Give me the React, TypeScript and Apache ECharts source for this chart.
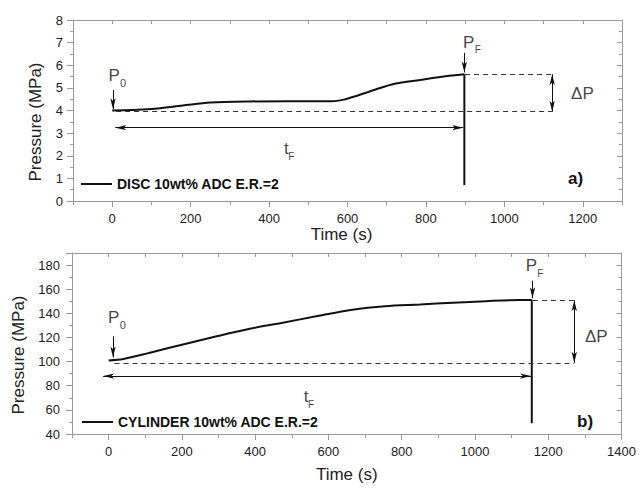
import React, { useEffect, useRef } from "react";
import * as echarts from "echarts";

// ---------- Panel a) DISC ----------
const seriesNameA = "DISC 10wt% ADC E.R.=2";
const timeA = [0, 50, 100, 180, 250, 350, 450, 560, 590, 620, 670, 720, 785, 845, 898];
const pressureA = [4.0, 4.02, 4.07, 4.22, 4.35, 4.4, 4.41, 4.41, 4.48, 4.63, 4.92, 5.18, 5.35, 5.5, 5.6];
const failTimeA = 898;
const failPressureA = 0.7;
const xTickLabelsA = [0, 200, 400, 600, 800, 1000, 1200];
const yTickLabelsA = [0, 1, 2, 3, 4, 5, 6, 7, 8];
// dashed reference lines [x1, y1, x2, y2]
const refLinesA = [
  [10, 3.95, 1122, 3.95],
  [900, 5.6, 1122, 5.6],
];
// arrows [x1, y1, x2, y2, headAtStart, headAtEnd]
const arrowsA = [
  [8, 3.24, 895, 3.24, 1, 1],
  [1122, 5.6, 1122, 3.95, 1, 1],
  [2, 4.9, 2, 4.06, 0, 1],
  [898, 6.55, 898, 5.68, 0, 1],
];
// texts [main, subscript, x, y]
const textsA = [
  ["P", "0", 5, 5.55],
  ["P", "F", 909, 7.01],
  ["t", "F", 444, 2.3],
  ["\u0394P", "", 1199, 4.73],
];

// ---------- Panel b) CYLINDER ----------
const seriesNameB = "CYLINDER 10wt% ADC E.R.=2";
const timeB = [0, 40, 110, 200, 295, 385, 475, 570, 665, 755, 850, 940, 1030, 1120, 1155];
const pressureB = [101, 102.2, 107.2, 114, 121, 127.2, 132.2, 137.8, 143, 145.9, 147.3, 148.8, 150.1, 151, 151];
const failTimeB = 1155;
const failPressureB = 49;
const xTickLabelsB = [0, 200, 400, 600, 800, 1000, 1200, 1400];
const yTickLabelsB = [40, 60, 80, 100, 120, 140, 160, 180];
const refLinesB = [
  [16, 99, 1271, 99],
  [1158, 150.8, 1271, 150.8],
];
const arrowsB = [
  [-15, 88, 1153, 88, 1, 1],
  [1271, 150.8, 1271, 99, 1, 1],
  [12, 121, 12, 103.5, 0, 1],
  [1157, 167, 1157, 152.5, 0, 1],
];
const textsB = [
  ["P", "0", 14, 136.7],
  ["P", "F", 1154, 179.4],
  ["t", "F", 539, 71],
  ["\u0394P", "", 1331, 121],
];

const FONT = "'Liberation Sans', Arial, Helvetica, sans-serif";
const AXIS_COLOR = "#9a9a9a";
const INK = "#111";

function xAxesFor(grid: number, min: number, max: number, labels: number[], nameGap: number, namePad: number[]) {
  const ls = { color: AXIS_COLOR, width: 1 };
  return [
    {
      type: "value", gridIndex: grid, min, max, interval: 100, position: "bottom",
      axisLine: { show: true, onZero: false, lineStyle: ls },
      axisTick: { show: true, length: 4, lineStyle: ls },
      axisLabel: {
        color: "#222", fontSize: 13, fontFamily: FONT, margin: 11,
        formatter: (v: number) => (labels.indexOf(v) >= 0 ? String(v) : ""),
      },
      splitLine: { show: false },
      name: "Time (s)", nameLocation: "middle", nameGap,
      nameTextStyle: { color: "#222", fontSize: 17, fontFamily: FONT, padding: namePad },
    },
    {
      type: "value", gridIndex: grid, min, max, position: "bottom",
      axisLine: { show: false, onZero: false },
      axisTick: { show: true, length: 6, customValues: labels, lineStyle: ls },
      axisLabel: { show: false },
      splitLine: { show: false },
    },
    {
      type: "value", gridIndex: grid, min, max, interval: 100, position: "top",
      axisLine: { show: true, onZero: false, lineStyle: ls },
      axisTick: { show: true, inside: true, length: 4, lineStyle: ls },
      axisLabel: { show: false },
      splitLine: { show: false },
    },
  ];
}

function yAxesFor(grid: number, min: number, max: number, interval: number, labels: number[], margin: number) {
  const ls = { color: AXIS_COLOR, width: 1 };
  return [
    {
      type: "value", gridIndex: grid, min, max, interval, position: "left",
      axisLine: { show: true, onZero: false, lineStyle: ls },
      axisTick: { show: true, length: 6, lineStyle: ls },
      minorTick: { show: true, splitNumber: 2, length: 3, lineStyle: ls },
      axisLabel: {
        color: "#222", fontSize: 13, fontFamily: FONT, margin,
        formatter: (v: number) => (labels.indexOf(v) >= 0 ? String(v) : ""),
      },
      splitLine: { show: false },
      minorSplitLine: { show: false },
    },
    {
      type: "value", gridIndex: grid, min, max, interval, position: "right",
      axisLine: { show: true, onZero: false, lineStyle: ls },
      axisTick: { show: true, inside: true, length: 5, lineStyle: ls },
      minorTick: { show: true, splitNumber: 2, length: 3, lineStyle: ls },
      axisLabel: { show: false },
      splitLine: { show: false },
      minorSplitLine: { show: false },
    },
  ];
}

function markLinesFor(refLines: number[][], arrows: number[][]) {
  const dashed = { color: "#333", width: 1, type: [5, 4] };
  const solid = { color: INK, width: 1, type: "solid" };
  const head = { symbol: "arrow", symbolSize: [4, 11] };
  const none = { symbol: "none" };
  return {
    silent: true,
    animation: false,
    label: { show: false },
    emphasis: { disabled: true },
    symbol: ["none", "none"],
    data: [
      ...refLines.map(([x1, y1, x2, y2]) => [
        { coord: [x1, y1], ...none, lineStyle: dashed },
        { coord: [x2, y2], ...none, lineStyle: dashed },
      ]),
      ...arrows.map(([x1, y1, x2, y2, s, e]) => [
        { coord: [x1, y1], ...(s ? head : none), lineStyle: solid },
        { coord: [x2, y2], ...(e ? head : none), lineStyle: solid },
      ]),
    ],
  };
}

function textSeries(texts: (string | number)[][], xi: number, yi: number) {
  const data: any[] = [];
  const base = { show: true, position: "inside", color: INK, fontFamily: FONT, textBorderWidth: 0 };
  texts.forEach(([main, sub, x, y]) => {
    data.push({
      value: [x, y],
      label: { ...base, formatter: String(main), fontSize: 17 },
    });
    if (sub) {
      const dx = main === "t" ? 5 : 9;
      data.push({
        value: [x, y],
        label: { ...base, formatter: String(sub), fontSize: sub === "0" ? 11 : 10, offset: [dx, 7.5] },
      });
    }
  });
  return {
    type: "scatter", xAxisIndex: xi, yAxisIndex: yi, symbolSize: 1, silent: true,
    itemStyle: { color: "rgba(0,0,0,0)" },
    label: base,
    emphasis: { disabled: true },
    data,
    z: 5,
  };
}

export default function App() {
  const ref = useRef<HTMLDivElement>(null);
  useEffect(() => {
    if (!ref.current) return;
    const chart = echarts.init(ref.current, undefined, { renderer: "svg" });
    const lineStyle = { color: INK, width: 2 };
    const legendBase = {
      padding: 0, itemWidth: 31, itemHeight: 2, itemGap: 5, icon: "rect",
      selectedMode: false,
      itemStyle: { color: INK },
      textStyle: { color: INK, fontWeight: "bold", fontSize: 14, fontFamily: FONT },
    };
    const option: any = {
      animation: false,
      grid: [
        { left: 73, top: 20, width: 549, height: 181, show: false },
        { left: 72, top: 253, width: 550, height: 181, show: false },
      ],
      xAxis: [
        ...xAxesFor(0, -100, 1300, xTickLabelsA, 24, [0, 12, 0, 0]),
        ...xAxesFor(1, -100, 1400, xTickLabelsB, 32, [0, 0, 0, 0]),
      ],
      yAxis: [
        ...yAxesFor(0, 0, 8, 1, yTickLabelsA, 10),
        ...yAxesFor(1, 40, 190, 20, yTickLabelsB, 12),
      ],
      legend: [
        { ...legendBase, data: [seriesNameA], left: 81, top: 177 },
        { ...legendBase, data: [seriesNameB], left: 82, top: 415 },
      ],
      graphic: [
        {
          type: "text", x: 35, y: 122, rotation: Math.PI / 2,
          style: { text: "Pressure (MPa)", fontSize: 17, fontFamily: FONT, fill: "#222", align: "center", verticalAlign: "middle" },
        },
        {
          type: "text", x: 18, y: 355, rotation: Math.PI / 2,
          style: { text: "Pressure (MPa)", fontSize: 17, fontFamily: FONT, fill: "#222", align: "center", verticalAlign: "middle" },
        },
        {
          type: "text", x: 568, y: 178,
          style: { text: "a)", fontSize: 17, fontWeight: "bold", fontFamily: FONT, fill: INK, align: "left", verticalAlign: "middle" },
        },
        {
          type: "text", x: 577, y: 421,
          style: { text: "b)", fontSize: 17, fontWeight: "bold", fontFamily: FONT, fill: INK, align: "left", verticalAlign: "middle" },
        },
      ],
      series: [
        {
          name: seriesNameA, type: "line", xAxisIndex: 0, yAxisIndex: 0,
          data: timeA.map((t, i) => [t, pressureA[i]]),
          smooth: 0.3, symbol: "none", lineStyle, itemStyle: { color: INK }, silent: true,
          markLine: markLinesFor(refLinesA, arrowsA),
          z: 3,
        },
        {
          name: "discFailure", type: "line", xAxisIndex: 0, yAxisIndex: 0,
          data: [[failTimeA, pressureA[pressureA.length - 1]], [failTimeA, failPressureA]],
          symbol: "none", lineStyle, silent: true, z: 3,
        },
        textSeries(textsA, 0, 0),
        {
          name: seriesNameB, type: "line", xAxisIndex: 3, yAxisIndex: 2,
          data: timeB.map((t, i) => [t, pressureB[i]]),
          smooth: 0.3, symbol: "none", lineStyle, itemStyle: { color: INK }, silent: true,
          markLine: markLinesFor(refLinesB, arrowsB),
          z: 3,
        },
        {
          name: "cylinderFailure", type: "line", xAxisIndex: 3, yAxisIndex: 2,
          data: [[failTimeB, pressureB[pressureB.length - 1]], [failTimeB, failPressureB]],
          symbol: "none", lineStyle, silent: true, z: 3,
        },
        textSeries(textsB, 3, 2),
      ],
    };
    chart.setOption(option);
    return () => chart.dispose();
  }, []);
  return (
    <div
      ref={ref}
      style={{ position: "fixed", left: 0, top: 0, width: 639, height: 489, background: "#fff" }}
    />
  );
}
